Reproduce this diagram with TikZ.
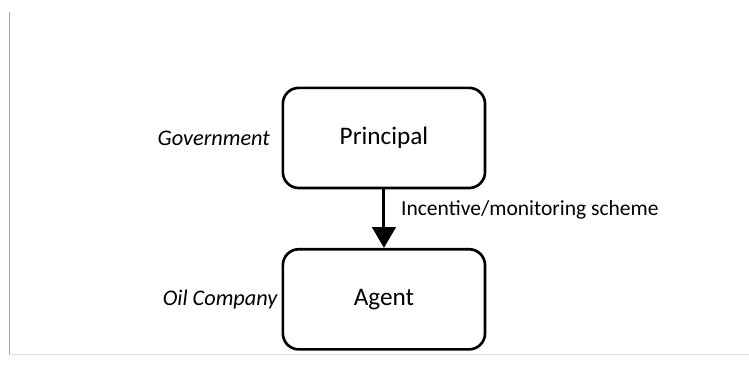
\documentclass[tikz,border=0pt]{standalone}
\usepackage{fontspec}
\setmainfont{Carlito}
\usepackage{tikz}
\usetikzlibrary{shapes,arrows.meta,positioning}
\tikzstyle{roundblock}=[rectangle, rounded corners=12pt, draw, align=center, line width=2pt, minimum width=5.35cm, minimum height=2.65cm, font=\fontsize{19}{22}\selectfont]
\tikzstyle{rolelabel}=[inner sep=0pt, font=\fontsize{16.8}{19}\selectfont\itshape]
\tikzstyle{frameline}=[line width=0.6pt]

\begin{document}
\begin{tikzpicture}

\useasboundingbox (-10.16,3.65) rectangle (9.66,-6.40);

% scanned page frame
\draw[frameline, gray!70] (-9.92,3.33) -- (-9.92,-5.74);
\draw[frameline, gray!25] (-9.92,-5.74) -- (9.66,-5.74);

\node[roundblock] (principal) at (0,0) {Principal};
\node[roundblock, below=1.55cm of principal] (agent) {Agent};

\node[rolelabel, left=0.3cm of principal] (govt) {Government};
\node[rolelabel, left=0.1cm of agent] (oilco) {Oil Company};

\draw[-{Triangle[length=0.55cm,width=0.62cm]}, line width=2.2pt] (principal.south) -- node[right, pos=0.35, xshift=0.3cm, font=\fontsize{16.2}{19}\selectfont] {Incentive/monitoring scheme} (agent.north);

\end{tikzpicture}
\end{document}
